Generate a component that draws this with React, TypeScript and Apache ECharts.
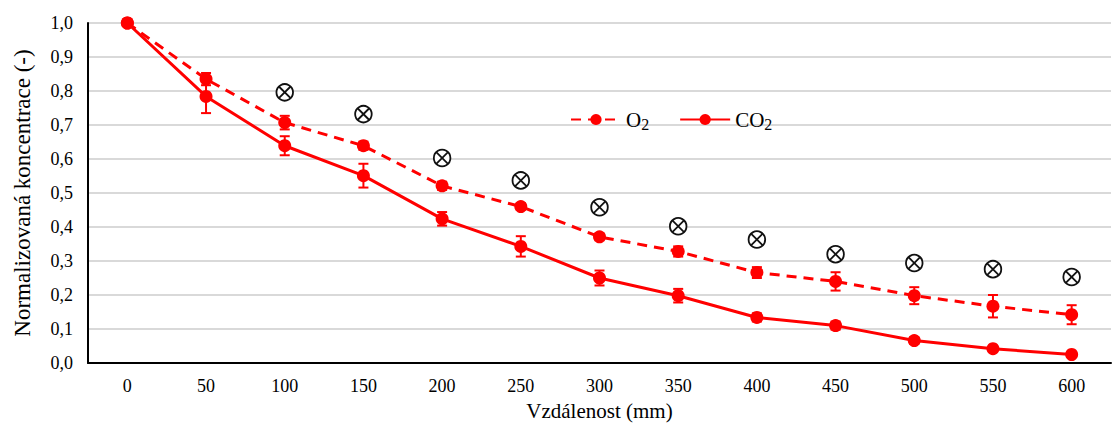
import React, { useEffect, useRef } from "react";
import * as echarts from "echarts";

// Distance along the sample (mm)
const distances = ["0", "50", "100", "150", "200", "250", "300", "350", "400", "450", "500", "550", "600"];

// Normalised O2 concentration with standard deviation
const o2Values = [1.0, 0.835, 0.707, 0.639, 0.521, 0.46, 0.371, 0.328, 0.266, 0.24, 0.198, 0.167, 0.142];
const o2Errors = [0, 0.018, 0.02, 0.012, 0.012, 0.01, 0.01, 0.015, 0.016, 0.027, 0.025, 0.033, 0.028];

// Normalised CO2 concentration with standard deviation
const co2Values = [1.0, 0.784, 0.639, 0.551, 0.424, 0.343, 0.25, 0.198, 0.134, 0.11, 0.066, 0.042, 0.025];
const co2Errors = [0, 0.049, 0.028, 0.035, 0.02, 0.03, 0.022, 0.02, 0.012, 0.012, 0.01, 0.005, 0.005];

// Reference points drawn as crossed circles
const crossValues = [null, null, 0.796, 0.732, 0.603, 0.537, 0.458, 0.402, 0.363, 0.32, 0.294, 0.276, 0.253];

const yTicks = { min: 0, max: 1, interval: 0.1 };

const RED = "#ff0000";
const SERIF = "Liberation Serif, serif";

function errorData(values: number[], errors: number[]) {
  return values.map((v, i) => [i, v - errors[i], v + errors[i]]);
}

function errorBarRenderer(params: any, api: any) {
  const i = api.value(0);
  const low = api.coord([i, api.value(1)]);
  const high = api.coord([i, api.value(2)]);
  if (Math.abs(high[1] - low[1]) < 1) return null;
  const cap = 5;
  const style = { stroke: RED, lineWidth: 2 };
  return {
    type: "group",
    children: [
      { type: "line", shape: { x1: low[0], y1: low[1], x2: high[0], y2: high[1] }, style },
      { type: "line", shape: { x1: low[0] - cap, y1: low[1], x2: low[0] + cap, y2: low[1] }, style },
      { type: "line", shape: { x1: high[0] - cap, y1: high[1], x2: high[0] + cap, y2: high[1] }, style },
    ],
  };
}

function crossRenderer(params: any, api: any) {
  const v = api.value(1);
  if (v == null || isNaN(v)) return null;
  const [cx, cy] = api.coord([api.value(0), v]);
  const r = 8.3;
  const d = r * 0.7071;
  const style = { stroke: "#111", lineWidth: 1.8, fill: "none" };
  return {
    type: "group",
    children: [
      { type: "circle", shape: { cx, cy, r }, style: { stroke: "#111", lineWidth: 1.8, fill: "#fff" } },
      { type: "line", shape: { x1: cx - d, y1: cy - d, x2: cx + d, y2: cy + d }, style },
      { type: "line", shape: { x1: cx - d, y1: cy + d, x2: cx + d, y2: cy - d }, style },
    ],
  };
}

export default function App() {
  const ref = useRef<HTMLDivElement>(null);

  useEffect(() => {
    if (!ref.current) return;
    const chart = echarts.init(ref.current, undefined, { renderer: "svg" });
    chart.setOption({
      animation: false,
      backgroundColor: "#fff",
      textStyle: { fontFamily: SERIF },
      grid: { left: 88, right: 2, top: 23, bottom: 68 },
      legend: {
        data: ["O2", "CO2"],
        left: 565,
        top: 104,
        itemWidth: 50,
        itemHeight: 14,
        itemGap: 30,
        formatter: (name: string) => `{b|${name.slice(0, -1)}}{s|2}`,
        textStyle: {
          color: "#000",
          fontFamily: SERIF,
          fontSize: 21,
          rich: {
            b: { fontFamily: SERIF, fontSize: 21, color: "#000" },
            s: { fontFamily: SERIF, fontSize: 16, color: "#000", padding: [10, 0, 0, 0] },
          },
        },
      },
      xAxis: {
        type: "category",
        data: distances,
        boundaryGap: true,
        name: "Vzdálenost (mm)",
        nameLocation: "middle",
        nameGap: 37,
        nameTextStyle: { fontFamily: SERIF, fontSize: 21, color: "#000" },
        axisLine: { lineStyle: { color: "#000", width: 2 } },
        axisTick: { show: false },
        axisLabel: { fontFamily: SERIF, fontSize: 18, color: "#000", margin: 14 },
        splitLine: { show: false },
      },
      yAxis: {
        type: "value",
        min: yTicks.min,
        max: yTicks.max,
        interval: yTicks.interval,
        name: "Normalizovaná koncentrace (-)",
        nameLocation: "middle",
        nameGap: 54,
        nameTextStyle: { fontFamily: SERIF, fontSize: 23, color: "#000" },
        axisLine: { show: true, lineStyle: { color: "#000", width: 2 } },
        axisTick: { show: false },
        axisLabel: {
          fontFamily: SERIF,
          fontSize: 18,
          color: "#000",
          margin: 15,
          formatter: (v: number) => v.toFixed(1).replace(".", ","),
        },
        splitLine: { lineStyle: { color: "#d9d9d9", width: 2 } },
      },
      series: [
        {
          type: "custom",
          name: "o2-err",
          renderItem: errorBarRenderer,
          data: errorData(o2Values, o2Errors),
          z: 2,
          silent: true,
        },
        {
          type: "custom",
          name: "co2-err",
          renderItem: errorBarRenderer,
          data: errorData(co2Values, co2Errors),
          z: 2,
          silent: true,
        },
        {
          type: "line",
          name: "O2",
          data: o2Values,
          symbol: "circle",
          symbolSize: 13,
          itemStyle: { color: RED },
          lineStyle: { color: RED, width: 3, type: [10, 7] },
          z: 3,
        },
        {
          type: "line",
          name: "CO2",
          data: co2Values,
          symbol: "circle",
          symbolSize: 13,
          itemStyle: { color: RED },
          lineStyle: { color: RED, width: 3 },
          z: 3,
        },
        {
          type: "custom",
          name: "reference",
          renderItem: crossRenderer,
          data: crossValues.map((v, i) => [i, v == null ? NaN : v]),
          z: 4,
          silent: true,
        },
      ],
    });
    return () => chart.dispose();
  }, []);

  return (
    <div
      ref={ref}
      style={{ position: "fixed", left: 0, top: 0, width: 1113, height: 431 }}
    />
  );
}
